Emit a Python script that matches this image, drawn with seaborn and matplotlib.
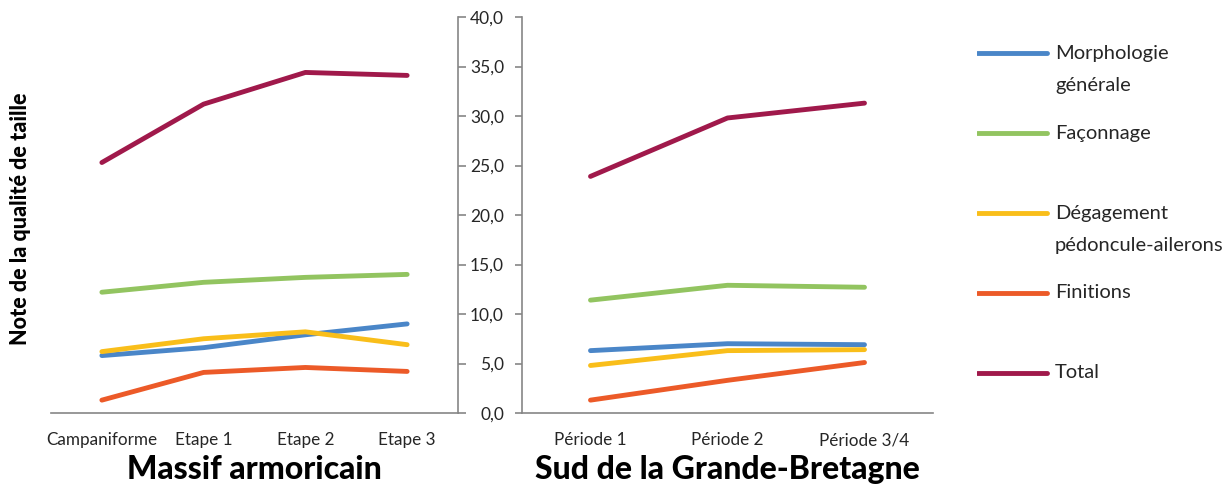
import numpy as np
import pandas as pd
import matplotlib
matplotlib.use('Agg')
import matplotlib.pyplot as plt
from matplotlib.ticker import FuncFormatter
import seaborn as sns

sns.set_style("white")
plt.rcParams['font.family'] = ['Lato', 'DejaVu Sans']

# series names (legend order) and colours
criteres = ["Morphologie\ngénérale", "Façonnage", "Dégagement\npédoncule-ailerons",
            "Finitions", "Total"]
couleurs = ["#4A86C8", "#92C460", "#F9BE1A", "#EC5A28", "#A0194B"]

# Massif armoricain
massif_cats = ["Campaniforme", "Etape 1", "Etape 2", "Etape 3"]
massif_morpho = [5.8, 6.6, 7.9, 9.0]
massif_faconnage = [12.2, 13.2, 13.7, 14.0]
massif_degagement = [6.2, 7.5, 8.2, 6.9]
massif_finitions = [1.3, 4.1, 4.6, 4.2]
massif_total = [25.3, 31.2, 34.4, 34.1]

# Sud de la Grande-Bretagne
sud_cats = ["Période 1", "Période 2", "Période 3/4"]
sud_morpho = [6.3, 7.0, 6.9]
sud_faconnage = [11.4, 12.9, 12.7]
sud_degagement = [4.8, 6.3, 6.4]
sud_finitions = [1.3, 3.3, 5.1]
sud_total = [23.9, 29.8, 31.3]


def long_form(cats, *cols):
    rows = []
    for crit, vals in zip(criteres, cols):
        for c, v in zip(cats, vals):
            rows.append({"periode": c, "critere": crit, "note": v})
    return pd.DataFrame(rows)


df_massif = long_form(massif_cats, massif_morpho, massif_faconnage,
                      massif_degagement, massif_finitions, massif_total)
df_sud = long_form(sud_cats, sud_morpho, sud_faconnage,
                   sud_degagement, sud_finitions, sud_total)

W, H = 1232, 488
fig = plt.figure(figsize=(W / 100, H / 100), dpi=100)
ax1 = fig.add_axes([51 / W, 75 / H, 407 / W, 396 / H])
ax2 = fig.add_axes([522 / W, 75 / H, 411 / W, 396 / H])

grey = "#868686"
txt = "#262626"

for ax, df, cats, title in [(ax1, df_massif, massif_cats, "Massif armoricain"),
                            (ax2, df_sud, sud_cats, "Sud de la Grande-Bretagne")]:
    sns.lineplot(data=df, x="periode", y="note", hue="critere", hue_order=criteres,
                 palette=couleurs, linewidth=3.5, sort=False, legend=False, ax=ax,
                 solid_capstyle='round', solid_joinstyle='round')
    n = len(cats)
    ax.set_xlim(-0.5, n - 0.5)
    ax.set_ylim(0, 40)
    ax.set_xticks(np.arange(n + 1) - 0.5, labels=[""] * (n + 1))
    ax.set_xticks(np.arange(n), labels=cats, minor=True)
    ax.tick_params(axis='x', which='major', direction='out', length=5, width=1.2, color=grey)
    ax.tick_params(axis='x', which='minor', length=0, pad=14, labelsize=12.3, labelcolor=txt)
    ax.set_yticks(np.arange(0, 41, 5))
    ax.set_xlabel(title, fontsize=23, fontweight='black', color='black', labelpad=5)
    ax.set_ylabel("")
    ax.spines['top'].set_visible(False)
    for s in ax.spines.values():
        s.set_color(grey)
        s.set_linewidth(1.2)

ax1.spines['left'].set_visible(False)
ax1.yaxis.tick_right()
ax1.tick_params(axis='y', which='major', right=True, labelright=False, direction='out',
                length=6, width=1.2, color=grey)

ax2.spines['right'].set_visible(False)
ax2.tick_params(axis='y', which='major', left=True, direction='out', length=5, width=1.2,
                color=grey, labelsize=12.5, labelcolor=txt, pad=8)
ax2.yaxis.set_major_formatter(FuncFormatter(lambda v, p: f"{v:.1f}".replace(".", ",")))

fig.text(21 / W, 1 - 219 / H, "Note de la qualité de taille", rotation=90,
         ha='center', va='center', fontsize=15.5, fontweight='black', color='black')

# legend drawn as its own small panel, one row per series
axl = fig.add_axes([977 / W, (H - 413) / H, (W - 977) / W, 400 / H])
axl.set_xlim(0, W - 977)
axl.set_ylim(len(criteres), 0)
axl.axis('off')
for i, (crit, col) in enumerate(zip(criteres, couleurs)):
    axl.plot([0, 70], [i + 0.5, i + 0.5], color=col, linewidth=3.5, solid_capstyle='round')
    for j, part in enumerate(crit.split("\n")):
        axl.text(78, i + 0.5 + 0.4 * j, part, va='center', ha='left',
                 fontsize=14.5, color=txt)

fig.savefig("out.png", dpi=100)
